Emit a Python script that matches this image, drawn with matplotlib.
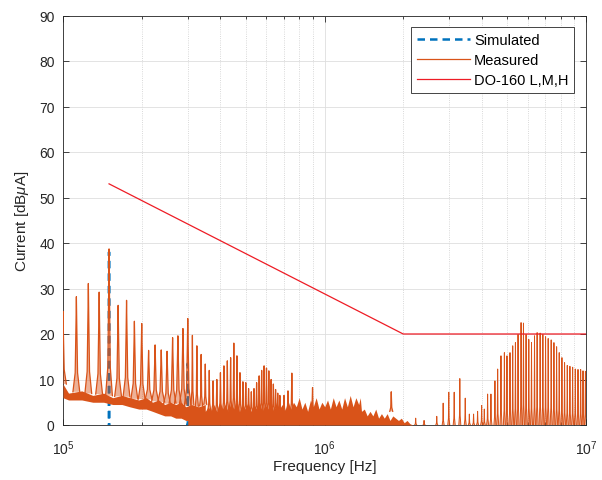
import numpy as np
import matplotlib
matplotlib.use('Agg')
import matplotlib.pyplot as plt
from matplotlib.ticker import NullLocator

plt.rcParams['font.family'] = ['Liberation Sans', 'DejaVu Sans']
plt.rcParams['mathtext.fontset'] = 'custom'
plt.rcParams['mathtext.rm'] = 'Liberation Sans'
plt.rcParams['mathtext.it'] = 'Liberation Sans:italic'

ORANGE = '#D95319'
BLUE = '#0072BD'
DARK = '#262626'

# measured: distinct harmonic peaks below 2 MHz (kHz, dBuA)
peak_khz = [100, 112.5, 125, 137.5, 150, 162.5, 175, 187.5, 200, 212.5,
            225, 237.5, 250, 262.5, 275, 287.5, 300, 312.5, 325, 337.5,
            350, 362.5, 375, 387.5, 400, 412.5, 425, 437.5, 450, 462.5,
            475, 487.5, 500, 512.5, 525, 537.5, 550, 562.5, 575, 587.5,
            600, 612.5, 625, 637.5, 650, 662.5, 675, 700, 725, 750,
            900, 1800]
peak_db = [25, 28.2, 31.1, 29.2, 38.7, 26.3, 27.4, 22.8, 22.3, 16.4,
           17.6, 16.5, 16.2, 19.2, 19.6, 21.2, 23.4, 19.7, 17.4, 15.5,
           13.4, 12.0, 9.7, 10.0, 11.5, 13.0, 14.1, 14.8, 18.0, 15.2,
           11.5, 9.5, 9.3, 8.0, 7.3, 8.0, 9.3, 10.8, 12.0, 13.0,
           12.5, 11.9, 10.0, 9.0, 7.8, 7.0, 6.5, 6.5, 7.5, 11.4,
           8.2, 7.3]

# measured: noise floor below 350 kHz (kHz, lower / upper edge in dBuA)
low_khz = [100, 105, 118, 130, 143, 155, 168, 180, 195, 208,
           220, 232, 245, 258, 270, 283, 295, 310, 330, 350]
low_top = [9, 7, 7.5, 6.5, 7, 6, 6.5, 6, 5.5, 6,
           5, 5.5, 4.5, 5, 4.5, 5, 4, 4.5, 4, 4.5]
low_bot = [6, 5.5, 5.5, 5, 5, 4.5, 4.5, 4, 3.5, 3.5,
           3, 2.5, 2, 2, 1.5, 1.5, 1, 1, 0.5, 0.3]

# measured: dense harmonic comb 300 kHz - 2.2 MHz, upper edge (kHz, dBuA)
dense_khz = [300, 309, 317, 325, 333, 341, 350, 359, 368, 377,
             387, 397, 407, 417, 428, 439, 450, 461, 473, 485,
             497, 510, 523, 536, 550, 564, 578, 593, 608, 623,
             639, 655, 672, 689, 706, 724, 742, 761, 780, 800,
             820, 841, 862, 884, 906, 929, 953, 977, 1002, 1027,
             1053, 1080, 1107, 1135, 1164, 1193, 1223, 1254, 1286, 1318,
             1351, 1370, 1385, 1420, 1456, 1493, 1531, 1570, 1610, 1651,
             1693, 1736, 1780, 1825, 1871, 1918, 1967, 2017, 2068, 2120,
             2174]
dense_top = [1.5, 2.5, 2, 3, 2.5, 3.5, 3, 4, 3, 4.5,
             3, 5, 3.5, 4.5, 3, 5, 3.5, 5.5, 3, 4.5,
             3.5, 5, 3, 4.5, 3.5, 5, 3, 4.5, 3.5, 5.5,
             3, 5, 3.5, 4.5, 3, 5.5, 3.5, 5, 4, 6,
             3.5, 5, 3, 5.5, 4, 6, 3.5, 5, 4, 5.5,
             3.5, 6, 4, 5.5, 3.5, 6, 4, 6.5, 4, 6,
             4.5, 6, 3, 3.5, 2, 3, 2, 3.5, 1.5, 2.5,
             1.5, 2.5, 1, 2, 1.5, 1, 1.5, 0.5, 1, 0.3,
             0]

# measured: spikes above 2 MHz (MHz, dBuA)
hf_mhz = [2.232, 2.403, 2.687, 2.843, 2.987, 3.133, 3.292, 3.453, 3.58, 3.716,
          3.85, 3.99, 4.084, 4.205, 4.33, 4.485, 4.594, 4.73, 4.874, 4.987,
          5.121, 5.245, 5.372, 5.497, 5.645, 5.766, 5.9, 6.043, 6.189, 6.355,
          6.503, 6.677, 6.84, 7.005, 7.168, 7.36, 7.54, 7.72, 7.9, 8.09,
          8.28, 8.48, 8.68, 8.89, 9.1, 9.32, 9.54, 9.74, 9.95]
hf_db = [1.5, 1.0, 1.9, 4.8, 7.2, 7.2, 10.2, 5.9, 2.4, 2.4,
         3.0, 4.3, 3.5, 6.8, 6.8, 9.7, 12.3, 15.2, 15.9, 15.2,
         15.9, 17.4, 18.1, 19.9, 22.5, 22.4, 19.9, 18.8, 18.1, 19.6,
         20.3, 20.2, 19.9, 19.4, 19.0, 18.7, 18.1, 17.2, 15.9, 14.8,
         13.7, 13.1, 12.9, 12.7, 12.3, 12.2, 12.2, 11.9, 11.8]

# simulated spectrum lines (kHz, dBuA)
sim_khz = [149, 150, 151, 299, 300, 301]
sim_db = [-100, 38, -100, -100, 13.5, -100]

# DO-160 limit (Hz, dBuA)
lim_hz = [150e3, 2e6, 10e6]
lim_db = [53, 20, 20]


def lobe(f, h, b, w):
    d = h - b
    xs = [f * (1 - w), f * (1 - 0.35 * w), f * (1 - 0.12 * w), f,
          f * (1 + 0.12 * w), f * (1 + 0.35 * w), f * (1 + w)]
    ys = [b, b + 0.2 * d, b + 0.7 * d, h, b + 0.7 * d, b + 0.2 * d, b]
    return xs, ys


def draw_lobes(ax, freqs, heights, bases, widths, lw, alpha):
    line = None
    for f, h, b, w in zip(freqs, heights, bases, widths):
        xs, ys = lobe(f, h, b, w)
        ax.fill(xs, ys, color=ORANGE, alpha=alpha, lw=0, zorder=3)
        line, = ax.plot(xs, ys, color=ORANGE, lw=lw, zorder=3)
    return line


low_f = np.array(low_khz) * 1e3
dense_f = np.array(dense_khz) * 1e3
pk_f = np.array(peak_khz) * 1e3
pk_base = np.interp(pk_f, low_f, low_top)
pk_base = np.where(pk_f > 3.5e5, 3.0, pk_base)
pk_w = np.where(pk_f < 3.1e5, 0.03, 0.013)
hf_f = np.array(hf_mhz) * 1e6

fig = plt.figure(figsize=(6.02, 4.81), dpi=100)
ax = fig.add_axes([63 / 602, (481 - 426) / 481, 523 / 602, 409.5 / 481])

h_sim, = ax.plot(np.array(sim_khz) * 1e3, sim_db, color=BLUE, lw=1.8,
                 ls=(0, (3.0, 2.0)), zorder=2, label='Simulated')
ax.fill_between(low_f, low_bot, low_top, color=ORANGE, lw=0, zorder=3)
ax.fill_between(dense_f, 0, dense_top, color=ORANGE, lw=0, zorder=3)
h_meas = draw_lobes(ax, pk_f, peak_db, pk_base, pk_w, 0.9, 0.45)
draw_lobes(ax, hf_f, hf_db, np.zeros(len(hf_f)), np.full(len(hf_f), 0.009), 0.7, 0.45)
h_meas.set_label('Measured')
h_lim, = ax.plot(lim_hz, lim_db, color='#ee1c25', lw=0.9, zorder=5, label='DO-160 L,M,H')

ax.set_xscale('log')
ax.set_xlim(1e5, 1e7)
ax.set_ylim(0, 90)
ax.set_yticks(range(0, 91, 10))
ax.yaxis.set_minor_locator(NullLocator())

ax.set_axisbelow(True)
ax.grid(True, which='major', color='#dedede', lw=0.6)
ax.grid(True, which='minor', axis='x', ls=':', color='#cccccc', lw=0.6)
ax.tick_params(which='both', direction='in', top=True, right=True,
               colors=DARK, labelsize=10, width=0.6)
ax.tick_params(which='major', length=4)
ax.tick_params(which='minor', length=2.5)
ax.tick_params(axis='x', which='both', pad=10)
ax.tick_params(axis='y', which='both', pad=6)
for s in ax.spines.values():
    s.set_color(DARK)
    s.set_linewidth(0.6)

ax.set_xlabel('Frequency [Hz]', fontsize=11, color=DARK, labelpad=1)
ax.set_ylabel(r'Current [dB$\mu$A]', fontsize=11, color=DARK, labelpad=6)

leg = ax.legend(handles=[h_sim, h_meas, h_lim], loc='upper right', fontsize=10.5,
                fancybox=False, edgecolor=DARK, framealpha=1, handlelength=3.6,
                handletextpad=0.3, labelspacing=0.4, borderpad=0.4,
                borderaxespad=0.8)
leg.get_frame().set_linewidth(0.6)

fig.savefig('out.png', dpi=100)
